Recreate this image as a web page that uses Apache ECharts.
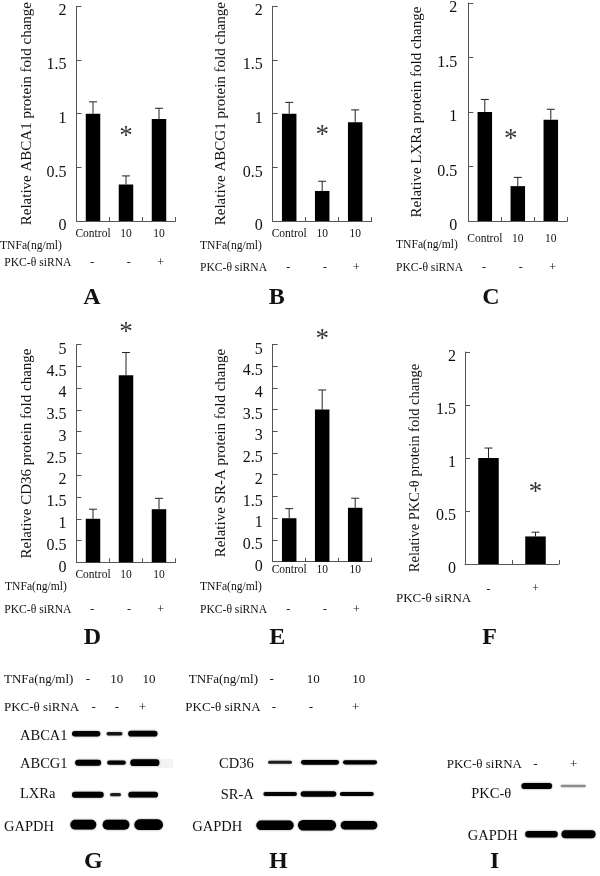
<!DOCTYPE html>
<html>
<head>
<meta charset="utf-8">
<style>
  html, body { margin: 0; padding: 0; background: #fff; }
  #chart { width: 600px; height: 876px; }
</style>
<script src="https://cdn.jsdelivr.net/npm/echarts@6/dist/echarts.min.js"></script>
</head>
<body>
<div id="chart"></div>
<script>
// bar values
const barLabels = ['Control', '10', '10']
const siLabels = ['-', '+']
const ticks2 = [0, 2]
const ticks5 = [0, 5]

const abca1Mean = [1, 0.34, 0.95]
const abca1Upper = [1.11, 0.42, 1.05]
const abcg1Mean = [1, 0.28, 0.92]
const abcg1Upper = [1.105, 0.37, 1.035]
const lxraMean = [1, 0.32, 0.93]
const lxraUpper = [1.115, 0.4, 1.025]
const cd36Mean = [1, 4.3, 1.22]
const cd36Upper = [1.22, 4.82, 1.47]
const srMean = [1, 3.5, 1.24]
const srUpper = [1.22, 3.95, 1.46]
const pkcMean = [1, 0.26]
const pkcUpper = [1.094, 0.3]

// significance marks: [bar index, value]
const abca1Star = [1, 0.81]
const abcg1Star = [1, 0.82]
const lxraStar = [1, 0.77]
const cd36Star = [1, 5.34]
const srStar = [1, 5.16]
const pkcStar = [1, 0.7]

// blot band signal per lane, relative to a normal band
const blotAbca1 = [1, 0.62, 1.03]
const blotAbcg1 = [0.92, 0.66, 1.03]
const blotLxra = [1.08, 0.6, 1.04]
const blotGapdhG = [0.97, 1, 1.07]
const blotCd36 = [0.6, 0.95, 0.85]
const blotSrA = [0.66, 0.9, 0.7]
const blotGapdhH = [0.95, 1.05, 0.85]
const blotPkc = [0.95, 0.36]
const blotGapdhI = [0.8, 1]

const SERIF = '"Liberation Serif", "Times New Roman", serif'
const chart = echarts.init(document.getElementById('chart'))

const panels = [
  { mean: abca1Mean, upper: abca1Upper, star: abca1Star, range: ticks2, cats: barLabels, name: 'Relative ABCA1 protein fold change',
    left: 76.5, top: 4, width: 99, height: 217, gap: 42, margin: 7, barWidth: 14.5, lm: 10 },
  { mean: abcg1Mean, upper: abcg1Upper, star: abcg1Star, range: ticks2, cats: barLabels, name: 'Relative ABCG1 protein fold change',
    left: 272.7, top: 4, width: 99, height: 217, gap: 44, margin: 7, barWidth: 14.5, lm: 10 },
  { mean: lxraMean, upper: lxraUpper, star: lxraStar, range: ticks2, cats: barLabels, name: 'Relative LXRa protein fold change',
    left: 468.3, top: 3, width: 99, height: 218, gap: 44, margin: 12, barWidth: 14.5, lm: 11, starDx: -7 },
  { mean: cd36Mean, upper: cd36Upper, star: cd36Star, range: ticks5, cats: barLabels, name: 'Relative CD36 protein fold change',
    left: 76.5, top: 344.7, width: 99, height: 217.6, gap: 42, margin: 7, barWidth: 14.5, lm: 10 },
  { mean: srMean, upper: srUpper, star: srStar, range: ticks5, cats: barLabels, name: 'Relative SR-A protein fold change',
    left: 272.7, top: 344.3, width: 99, height: 217.4, gap: 44, margin: 2, barWidth: 14.5, lm: 10 },
  { mean: pkcMean, upper: pkcUpper, star: pkcStar, range: ticks2, cats: siLabels, name: 'Relative PKC-\u03b8 protein fold change',
    left: 465, top: 352, width: 94, height: 212, gap: 42, margin: 19, barWidth: 20.5, lm: 9, nameSize: 14.5, namePad: 20 }
]

// one strip per membrane row; fill/spread turn signal into band length
const strips = [
  { v: blotAbca1, left: 72, width: 85, y: 733.7, fill: 1, spread: 1.2, thick: 5.5 },
  { v: blotAbcg1, left: 74, width: 85, y: 762.7, fill: 1, spread: 1, thick: 6.5 },
  { v: blotLxra, left: 74, width: 83, y: 794.7, fill: 1, spread: 1.8, thick: 5.5 },
  { v: blotGapdhG, left: 67, width: 98, y: 824.7, fill: 0.82, spread: 1, thick: 10 },
  { v: blotCd36, left: 260, width: 120, y: 762.3, fill: 1, spread: 1, thick: 5 },
  { v: blotSrA, left: 261, width: 115, y: 794, fill: 0.95, spread: 0.2, thick: 6 },
  { v: blotGapdhH, left: 254, width: 126, y: 825.3, fill: 0.9, spread: 0.2, thick: 10 },
  { v: blotPkc, left: 518.5, width: 73, y: 786, fill: 0.85, spread: 0.2, thick: 6.5 },
  { v: blotGapdhI, left: 523, width: 74, y: 834.3, fill: 0.92, spread: 0.2, thick: 8 }
]

const grid = []
const xAxis = []
const yAxis = []
const series = []

panels.forEach((p, i) => {
  grid.push({ left: p.left, top: p.top, width: p.width, height: p.height })
  xAxis.push({
    type: 'category',
    gridIndex: i,
    data: p.cats,
    axisLine: { lineStyle: { color: '#555', width: 1 } },
    axisTick: { show: true, inside: true, length: 4, lineStyle: { color: '#555' } },
    axisLabel: { color: '#111', fontFamily: SERIF, fontSize: 11.5, margin: p.margin, interval: 0 }
  })
  yAxis.push({
    type: 'value',
    gridIndex: i,
    min: p.range[0],
    max: p.range[1],
    interval: 0.5,
    name: p.name,
    nameLocation: 'middle',
    nameGap: p.gap,
    nameRotate: 90,
    nameTextStyle: { color: '#111', fontFamily: SERIF, fontSize: p.nameSize || 15, padding: p.namePad ? [0, p.namePad, 0, 0] : 0 },
    splitLine: { show: false },
    axisLine: { show: true, lineStyle: { color: '#555', width: 1 } },
    axisTick: { show: true, inside: true, length: 5, lineStyle: { color: '#555' } },
    // labels sit a little below their ticks in the figure
    axisLabel: { color: '#111', fontFamily: SERIF, fontSize: 16, margin: p.lm, verticalAlign: 'top', lineHeight: 10 }
  })
  series.push({
    type: 'bar',
    xAxisIndex: i,
    yAxisIndex: i,
    barWidth: p.barWidth,
    itemStyle: { color: '#000' },
    data: p.mean,
    silent: true
  })
  series.push({
    type: 'custom',
    xAxisIndex: i,
    yAxisIndex: i,
    clip: false,
    silent: true,
    data: p.upper.map((u, k) => [k, p.mean[k], u]),
    renderItem: (params, api) => {
      const base = api.coord([api.value(0), api.value(1)])
      const end = api.coord([api.value(0), api.value(2)])
      const line = { stroke: '#222', lineWidth: 1 }
      return {
        type: 'group',
        children: [
          { type: 'line', shape: { x1: base[0], y1: base[1], x2: base[0], y2: end[1] }, style: line },
          { type: 'line', shape: { x1: base[0] - 4, y1: end[1], x2: base[0] + 4, y2: end[1] }, style: line }
        ]
      }
    }
  })
  series.push({
    type: 'scatter',
    xAxisIndex: i,
    yAxisIndex: i,
    clip: false,
    silent: true,
    symbolSize: 1,
    itemStyle: { color: 'transparent' },
    data: [p.star],
    label: {
      show: true,
      formatter: '*',
      position: 'inside',
      color: '#000',
      fontFamily: SERIF,
      fontSize: 27,
      offset: [p.starDx || 0, 3]
    }
  })
})

strips.forEach((s, j) => {
  const idx = panels.length + j
  const lanes = s.v.map((_, k) => k)
  grid.push({ left: s.left, top: s.y - 10, width: s.width, height: 20 })
  xAxis.push({ type: 'category', gridIndex: idx, data: lanes, show: false })
  yAxis.push({ type: 'value', gridIndex: idx, min: 0, max: 1, show: false })
  series.push({
    type: 'custom',
    xAxisIndex: idx,
    yAxisIndex: idx,
    clip: false,
    silent: true,
    data: s.v.map((v, k) => [k, 0.5, v]),
    renderItem: (params, api) => {
      const c = api.coord([api.value(0), api.value(1)])
      const laneW = api.size([1, 0])[0]
      const sig = api.value(2)
      const w = laneW * s.fill * Math.pow(sig, s.spread)
      const h = Math.max(1.5, s.thick * sig)
      return {
        type: 'rect',
        shape: { x: c[0] - w / 2, y: c[1] - h / 2, width: w, height: h, r: h / 2 },
        style: {
          fill: '#000',
          opacity: Math.min(1, sig * sig * 2 + 0.1),
          shadowBlur: 2,
          shadowColor: 'rgba(0,0,0,0.5)'
        }
      }
    }
  })
})

const theta = 'PKC-\u03b8 siRNA'
// [text, x, y, size, align]
const notes = [
  ['TNFa(ng/ml)', 0, 245.7, 11.6], [theta, 4.3, 263.3, 11.6],
  ['-', 92.3, 263, 12, 'center'], ['-', 128.7, 263, 12, 'center'], ['+', 160.7, 263, 12, 'center'],
  ['TNFa(ng/ml)', 200, 245.7, 11.6], [theta, 200, 268, 11.6],
  ['-', 288.3, 268, 12, 'center'], ['-', 325, 268, 12, 'center'], ['+', 356.3, 268, 12, 'center'],
  ['TNFa(ng/ml)', 396, 245, 11.6], [theta, 396, 268, 11.6],
  ['-', 484, 268, 12, 'center'], ['-', 520.7, 268, 12, 'center'], ['+', 552.7, 268, 12, 'center'],
  ['TNFa(ng/ml)', 5, 586.7, 11.6], [theta, 4.3, 610, 11.6],
  ['-', 92.3, 610, 12, 'center'], ['-', 129, 610, 12, 'center'], ['+', 160.7, 610, 12, 'center'],
  ['TNFa(ng/ml)', 200, 586.7, 11.6], [theta, 200, 610, 11.6],
  ['-', 288.3, 610, 12, 'center'], ['-', 325, 610, 12, 'center'], ['+', 356.3, 610, 12, 'center'],
  [theta, 396, 598.7, 13],
  // panel G
  ['TNFa(ng/ml)', 4, 680, 13], [theta, 4, 708, 13],
  ['-', 88, 680, 13, 'center'], ['10', 116.7, 680, 13, 'center'], ['10', 149, 680, 13, 'center'],
  ['-', 93.7, 708, 13, 'center'], ['-', 117, 708, 13, 'center'], ['+', 142.3, 708, 13, 'center'],
  ['ABCA1', 20, 736, 14.5], ['ABCG1', 20, 764, 14.5], ['LXRa', 20, 794.3, 14.5], ['GAPDH', 4, 827.3, 14.5],
  // panel H
  ['TNFa(ng/ml)', 188.7, 680, 13], [theta, 185.3, 708, 13],
  ['-', 271.7, 680, 13, 'center'], ['10', 313.3, 680, 13, 'center'], ['10', 358.7, 680, 13, 'center'],
  ['-', 274, 708, 13, 'center'], ['-', 311, 708, 13, 'center'], ['+', 355.7, 708, 13, 'center'],
  ['CD36', 219, 764, 14.5], ['SR-A', 220.7, 795, 14.5], ['GAPDH', 192.3, 826.7, 14.5],
  // panel I
  [theta, 446.7, 765, 13], ['-', 535.3, 765, 13, 'center'], ['+', 573.7, 765, 13, 'center'],
  ['PKC-\u03b8', 471.3, 794, 14.5], ['GAPDH', 467.7, 835.7, 14.5]
]

const letters = [
  ['A', 92, 297.7], ['B', 276.7, 297.7], ['C', 491, 297.7],
  ['D', 92.3, 638], ['E', 277.3, 638], ['F', 489.7, 638],
  ['G', 93.3, 862], ['H', 278.3, 862], ['I', 494.7, 862]
]

const textEl = (t, x, y, font, align) => ({
  type: 'text',
  x: x,
  y: y,
  silent: true,
  style: { text: t, font: font, fill: '#111', align: align, verticalAlign: 'middle', textAlign: align, textVerticalAlign: 'middle' }
})

const graphic = [
  { type: 'rect', silent: true, z: -1, shape: { x: 157, y: 759, width: 16, height: 9 }, style: { fill: '#f3f3f3' } }
]
notes.forEach(n => graphic.push(textEl(n[0], n[1], n[2], n[3] + 'px ' + SERIF, n[4] || 'left')))
letters.forEach(l => graphic.push(textEl(l[0], l[1], l[2], 'bold 24px ' + SERIF, 'center')))

chart.setOption({
  animation: false,
  backgroundColor: '#fff',
  grid,
  xAxis,
  yAxis,
  series,
  graphic
})
</script>
</body>
</html>
